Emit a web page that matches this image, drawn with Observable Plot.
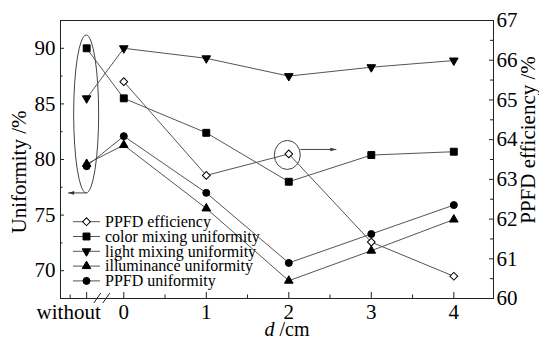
<!DOCTYPE html>
<html><head><meta charset="utf-8">
<script src="https://cdn.jsdelivr.net/npm/d3@7"></script>
<script src="https://cdn.jsdelivr.net/npm/@observablehq/plot@0.6"></script>
<style>html,body{margin:0;padding:0;background:#fff}</style>
</head><body><div id="chart"></div>
<script>
// ---- data ----
const categories = ["without", "0", "1", "2", "3", "4"];
const xPositions = [-0.45, 0, 1, 2, 3, 4];
const ppfdEfficiency = [null, 65.46, 63.10, 63.64, 61.42, 60.56]; // right axis (%)
const colorMixing   = [90.0, 85.5, 82.4, 78.0, 80.4, 80.7];
const lightMixing   = [85.5, 90.0, 89.1, 87.5, 88.3, 88.9];
const illuminance   = [79.6, 81.3, 75.6, 69.1, 71.8, 74.6];
const ppfdUniform   = [79.4, 82.1, 77.0, 70.7, 73.3, 75.9];
const leftTicks = [70, 75, 80, 85, 90];
const leftMinor = [72.5, 77.5, 82.5, 87.5];
const rightTicks = [60, 61, 62, 63, 64, 65, 66, 67];
const rightMinor = [60.5, 61.5, 62.5, 63.5, 64.5, 65.5, 66.5];
const xMinor = [-0.65, 0.5, 1.5, 2.5, 3.5];
const legendNames = ["PPFD efficiency", "color mixing uniformity", "light mixing uniformity", "illuminance uniformity", "PPFD uniformity"];

// ---- scales ----
const yDomain = [67.5, 92.5];
const rDomain = [60, 67];
const toLeft = v => yDomain[0] + (v - rDomain[0]) * (yDomain[1] - yDomain[0]) / (rDomain[1] - rDomain[0]);
const xDomain = [-0.767, 4.481];

const series = [
  {name: legendNames[0], values: ppfdEfficiency, right: true, symbol: "square", rotate: 45, r: 3.1, fill: "white"},
  {name: legendNames[1], values: colorMixing, symbol: "square", rotate: 0, r: 3.9, fill: "black"},
  {name: legendNames[2], values: lightMixing, symbol: "triangle", rotate: 180, r: 3.2, fill: "black"},
  {name: legendNames[3], values: illuminance, symbol: "triangle", rotate: 0, r: 3.2, fill: "black"},
  {name: legendNames[4], values: ppfdUniform, symbol: "circle", rotate: 0, r: 3.5, fill: "black"}
];
const rows = s => s.values.map((v, i) => v == null ? null : {x: xPositions[i], y: s.right ? toLeft(v) : v}).filter(d => d);

const W = 539, H = 341, mL = 60, mR = 46, mT = 20, mB = 43;
const pw = W - mL - mR, ph = H - mT - mB;
const FONT = "Liberation Serif";
const TICK_FS = 21, TITLE_FS = 21, LEG_FS = 16;

function arrow(g, x1, y1, x2, y2) {
  g.append("line").attr("x1", x1).attr("y1", y1).attr("x2", x2).attr("y2", y2);
  const a = Math.atan2(y2 - y1, x2 - x1), L = 6, w = 1.8;
  const bx = x2 - L * Math.cos(a), by = y2 - L * Math.sin(a);
  const nx = -Math.sin(a) * w, ny = Math.cos(a) * w;
  g.append("path").attr("d", `M${x2},${y2}L${bx + nx},${by + ny}L${bx - nx},${by - ny}Z`).attr("fill", "#333").attr("stroke", "none");
}

function annotations(index, scales) {
  const {x, y} = scales;
  const g = d3.create("svg:g").attr("fill", "none").attr("stroke", "#444").attr("stroke-width", 1)
    .attr("font-family", FONT).attr("text-anchor", "start");
  // ellipse around the "without" points
  const cx = x(xPositions[0]), top = y(91.15), bot = y(76.95);
  g.append("ellipse").attr("cx", cx).attr("cy", (top + bot) / 2).attr("rx", 12.5).attr("ry", (bot - top) / 2);
  arrow(g, cx, bot, cx - 18, bot);
  // circle around the efficiency point at d = 2
  const px = x(xPositions[3]), py = y(toLeft(ppfdEfficiency[3]));
  g.append("ellipse").attr("cx", px - 1).attr("cy", py + 1.5).attr("rx", 13).attr("ry", 14.5);
  arrow(g, px + 12, py - 4, px + 48, py - 4);
  // axis break
  const x0 = x(0), yb = y(yDomain[0]);
  for (const off of [-26, -17]) {
    g.append("line").attr("x1", x0 + off - 3.5).attr("y1", yb + 5).attr("x2", x0 + off + 3.5).attr("y2", yb - 5).attr("stroke", "#222");
  }
  // legend
  const lx = 73, ly = 221.7, step = 14.8;
  series.forEach((s, i) => {
    const yy = ly + i * step;
    g.append("line").attr("x1", lx).attr("x2", lx + 27).attr("y1", yy).attr("y2", yy).attr("stroke", "#555");
    const sym = d3.symbol().type(s.symbol === "circle" ? d3.symbolCircle : s.symbol === "square" ? d3.symbolSquare : d3.symbolTriangle).size(Math.PI * s.r * s.r);
    g.append("path").attr("d", sym()).attr("transform", `translate(${lx + 13.5},${yy}) rotate(${s.rotate})`)
      .attr("fill", s.fill).attr("stroke", "black");
    g.append("text").attr("x", lx + 32).attr("y", yy).attr("dy", "0.33em").attr("fill", "black").attr("stroke", "none")
      .attr("font-family", FONT).attr("text-anchor", "start").attr("font-size", LEG_FS).text(s.name);
  });
  // axis titles
  g.append("text").attr("transform", `translate(19,${172}) rotate(-90)`).attr("text-anchor", "middle").attr("dy", "0.33em")
    .attr("font-family", FONT).attr("fill", "black").attr("stroke", "none").attr("font-size", TITLE_FS).text("Uniformity /%");
  g.append("text").attr("transform", `translate(528,${140}) rotate(-90)`).attr("text-anchor", "middle").attr("dy", "0.33em")
    .attr("font-family", FONT).attr("fill", "black").attr("stroke", "none").attr("font-size", TITLE_FS).text("PPFD efficiency /%");
  const xl = g.append("text").attr("x", 287).attr("y", 336).attr("text-anchor", "middle").attr("font-family", FONT)
    .attr("fill", "black").attr("stroke", "none").attr("font-size", 20);
  xl.append("tspan").attr("font-style", "italic").text("d");
  xl.append("tspan").text(" /cm");
  return g.node();
}

const marks = [
  Plot.frame({stroke: "#222"}),
  // ticks (inward)
  Plot.tickY(leftTicks, {y: d => d, insetRight: pw - 4, stroke: "#222"}),
  Plot.tickY(leftMinor, {y: d => d, insetRight: pw - 2.5, stroke: "#222"}),
  Plot.tickY(rightTicks.map(toLeft), {y: d => d, insetLeft: pw - 4, stroke: "#222"}),
  Plot.tickY(rightMinor.map(toLeft), {y: d => d, insetLeft: pw - 3, stroke: "#222"}),
  Plot.tickX(xPositions, {x: d => d, insetTop: ph - 6, stroke: "#222"}),
  Plot.tickX(xMinor, {x: d => d, insetTop: ph - 3.5, stroke: "#222"}),
  // axis labels
  Plot.axisY(leftTicks, {tickSize: 0, tickPadding: 5, fontSize: TICK_FS, fontFamily: FONT, label: null}),
  Plot.axisY(rightTicks.map(toLeft), {anchor: "right", tickSize: 0, tickPadding: 3, fontSize: TICK_FS, fontFamily: FONT, label: null,
    tickFormat: d => String(rightTicks[rightTicks.map(toLeft).indexOf(d)])}),
  Plot.axisX(xPositions.slice(1), {tickSize: 0, tickPadding: 6, fontSize: TICK_FS, fontFamily: FONT, label: null,
    tickFormat: d => categories[xPositions.indexOf(d)]}),
  Plot.text([0], {x: () => xPositions[0], frameAnchor: "bottom", lineAnchor: "top", dy: 6, dx: -18, fontSize: TICK_FS, fontFamily: FONT, text: () => categories[0]}),
];
for (const s of series) marks.push(Plot.line(rows(s), {x: "x", y: "y", stroke: "#555", strokeWidth: 1}));
for (const s of series) marks.push(Plot.dot(rows(s), {x: "x", y: "y", symbol: s.symbol, rotate: s.rotate, r: s.r, fill: s.fill, stroke: "black", strokeWidth: 1}));
marks.push(annotations);

const chart = Plot.plot({
  width: W, height: H, marginLeft: mL, marginRight: mR, marginTop: mT, marginBottom: mB,
  style: {fontFamily: FONT, fontSize: TICK_FS + "px", background: "white", color: "black"},
  x: {domain: xDomain},
  y: {domain: yDomain},
  marks
});
chart.setAttribute("font-family", FONT);
document.getElementById("chart").append(chart);
</script>
</body></html>
